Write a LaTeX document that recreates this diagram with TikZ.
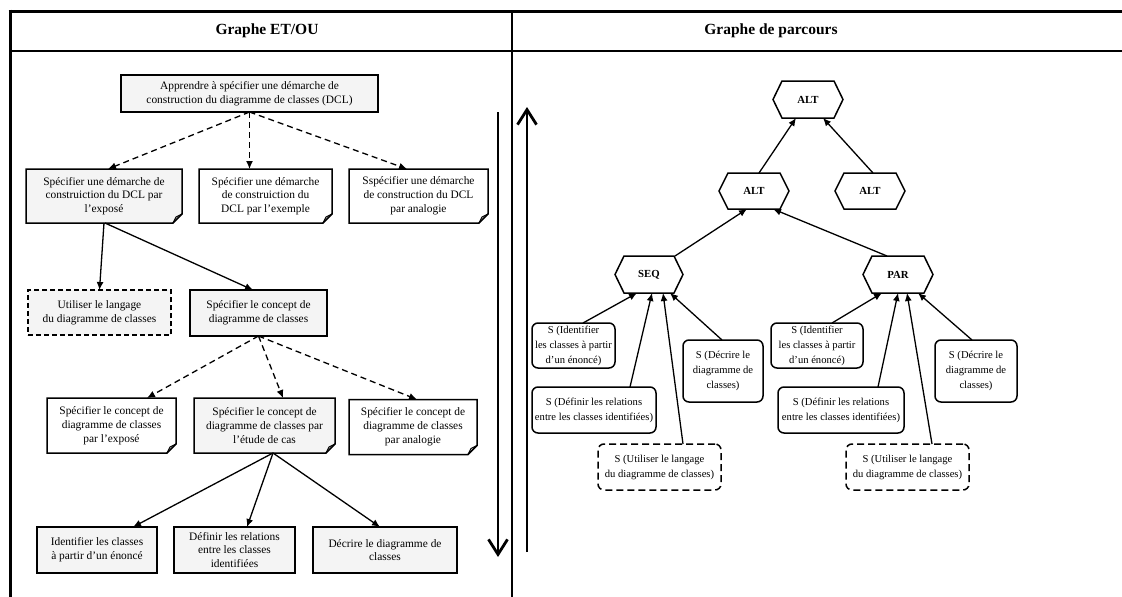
\documentclass[tikz,border=0pt]{standalone}
\usepackage{fontspec}
\setmainfont{Liberation Serif}
\usetikzlibrary{arrows.meta,backgrounds,calc}
\definecolor{boxgray}{HTML}{F4F4F4}
\newcommand\dogear[2]{%
  \draw[line width=1.5pt, fill=#2, line join=miter] (#1.north west) -- (#1.north east) -- ([yshift=9pt]#1.south east) -- ([xshift=-9pt]#1.south east) -- (#1.south west) -- cycle;
  \draw[line width=1.1pt, line join=miter] ([xshift=-9pt]#1.south east) -- ([xshift=-6pt,yshift=6pt]#1.south east) -- ([yshift=9pt]#1.south east);}
\newcommand\hexshape[1]{%
  \draw[line width=1.5pt, fill=white] (#1.west) -- ([xshift=9pt]#1.north west) -- ([xshift=-9pt]#1.north east) -- (#1.east) -- ([xshift=-9pt]#1.south east) -- ([xshift=9pt]#1.south west) -- cycle;}
\begin{document}
\begin{tikzpicture}[x=1pt,y=-1pt,
  box/.style={draw, line width=1.5pt, fill=boxgray, align=center, inner sep=0pt, outer sep=0pt, font=\fontsize{11.4}{13.8}\selectfont},
  dbox/.style={box, dash pattern=on 5pt off 3pt},
  note/.style={align=center, inner sep=0pt, outer sep=0pt, font=\fontsize{11.4}{13.8}\selectfont},
  hex/.style={inner sep=0pt, outer sep=0pt, font=\fontsize{10.8}{12}\selectfont\bfseries, minimum width=70pt, minimum height=37pt},
  sbox/.style={draw, line width=1.5pt, rounded corners=6pt, fill=white, align=center, inner sep=0pt, outer sep=0pt, font=\fontsize{10.6}{15}\selectfont},
  sdbox/.style={sbox, dash pattern=on 7pt off 4pt},
  arr/.style={line width=1.3pt, -{Latex[length=8pt,width=7pt]}},
  darr/.style={arr, dash pattern=on 6pt off 4pt},
  bigarr/.style={line width=2.8pt, -{Straight Barb[length=15pt,width=19pt]}},
  hdr/.style={font=\fontsize{15.5}{18}\selectfont\bfseries, inner sep=0pt},
  frame/.style={line width=3pt},
  rule/.style={line width=1.5pt}
]
\useasboundingbox (0,0) rectangle (1122,597);
% frame
\draw[frame] (8.5,11) -- (1122,11);
\draw[frame] (10,9.5) -- (10,597);
\draw[rule] (10,51) -- (1122,51);
\draw[line width=1.3pt] (512,11) -- (512,597);
\node[hdr] (hdrL) at (267,31) {Graphe ET/OU};
\node[hdr] (hdrR) at (771,31) {Graphe de parcours};

% ---------- left panel ----------
\node[box, minimum width=257pt, minimum height=37pt] (top) at (249.5,93.5) {Apprendre à spécifier une démarche de\\construction du diagramme de classes (DCL)};
\node[note, minimum width=156pt, minimum height=54pt] (A) at (104,196) {Spécifier une démarche de\\construiction du DCL par\\l’exposé};
\node[note, minimum width=133pt, minimum height=54pt] (B) at (265.5,196) {Spécifier une démarche\\de construiction du\\DCL par l’exemple};
\node[note, minimum width=139pt, minimum height=54pt] (C) at (418.5,196) {Sspécifier une démarche\\de construction du DCL\\par analogie};
\node[dbox, minimum width=143pt, minimum height=45pt] (U) at (99.5,312.5) {Utiliser le langage\\du diagramme de classes};
\node[box, minimum width=137pt, minimum height=46pt] (K) at (258.5,313) {Spécifier le concept de\\diagramme de classes};
\node[note, minimum width=129pt, minimum height=55pt] (D) at (111.5,425.5) {Spécifier le concept de\\diagramme de classes\\par l’exposé};
\node[note, minimum width=141pt, minimum height=55pt] (E) at (264.5,425.5) {Spécifier le concept de\\diagramme de classes par\\l’étude de cas};
\node[note, minimum width=128pt, minimum height=55pt] (F) at (413,427) {Spécifier le concept de\\diagramme de classes\\par analogie};
\node[box, minimum width=120pt, minimum height=46pt] (G) at (97,550) {Identifier les classes\\à partir d’un énoncé};
\node[box, minimum width=121pt, minimum height=46pt] (H) at (234.5,550) {Définir les relations\\entre les classes\\identifiées};
\node[box, minimum width=144pt, minimum height=46pt] (I) at (385,550) {Décrire le diagramme de\\classes};
\begin{scope}[on background layer]
  \dogear{A}{boxgray}
  \dogear{B}{white}
  \dogear{C}{white}
  \dogear{D}{white}
  \dogear{E}{boxgray}
  \dogear{F}{white}
\end{scope}
\draw[darr] (top.south) -- ([xshift=4pt]A.north);
\draw[darr] (top.south) -- (top.south |- B.north);
\draw[darr] (top.south) -- ([xshift=-11.5pt]C.north);
\draw[arr] (A.south) -- (U.north);
\draw[arr] ([xshift=1pt]A.south) -- ([xshift=-5.5pt]K.north);
\draw[darr] (K.south) -- ([xshift=35.5pt]D.north);
\draw[darr] (K.south) -- ([xshift=18.5pt]E.north);
\draw[darr] (K.south) -- ([xshift=4pt]F.north);
\draw[arr] ([xshift=8.5pt]E.south) -- ([xshift=36pt]G.north);
\draw[arr] ([xshift=8.5pt]E.south) -- ([xshift=12.5pt]H.north);
\draw[arr] ([xshift=8.5pt]E.south) -- ([xshift=-5pt]I.north);
\coordinate (dnS) at (498,112);
\coordinate (dnE) at (498,557);
\draw[bigarr] (dnS) -- (dnE);
\coordinate (upS) at (527,552);
\coordinate (upE) at (527,107);
\draw[bigarr] (upS) -- (upE);

% ---------- right panel ----------
\node[hex] (altT) at (808,99.5) {ALT};
\node[hex, minimum height=36pt] (altM) at (754,191) {ALT};
\node[hex, minimum height=36pt] (altR) at (870,191) {ALT};
\node[hex, minimum width=68pt] (seq) at (649,274.5) {SEQ};
\node[hex] (par) at (898,274.5) {PAR};
\begin{scope}[on background layer]
  \hexshape{altT}
  \hexshape{altM}
  \hexshape{altR}
  \hexshape{seq}
  \hexshape{par}
\end{scope}
\node[sbox, minimum width=83pt, minimum height=45pt] (s1) at (573.5,345.5) {S (Identifier\\les classes à partir\\d’un énoncé)};
\node[sbox, minimum width=124pt, minimum height=46pt] (s2) at (594,410) {S (Définir les relations\\entre les classes identifiées)};
\node[sdbox, minimum width=123pt, minimum height=46pt] (s3) at (659.5,467) {S (Utiliser le langage\\du diagramme de classes)};
\node[sbox, minimum width=80pt, minimum height=62pt] (s4) at (723,371) {S (Décrire le\\diagramme de\\classes)};
\node[sbox, minimum width=92pt, minimum height=45pt] (p1) at (817,345.5) {S (Identifier\\les classes à partir\\d’un énoncé)};
\node[sbox, minimum width=126pt, minimum height=46pt] (p2) at (841,410) {S (Définir les relations\\entre les classes identifiées)};
\node[sdbox, minimum width=123pt, minimum height=46pt] (p3) at (907.5,467) {S (Utiliser le langage\\du diagramme de classes)};
\node[sbox, minimum width=82pt, minimum height=62pt] (p4) at (976,371) {S (Décrire le\\diagramme de\\classes)};

\draw[arr] ([xshift=5pt]altM.north) -- ([xshift=-12pt]altT.south);
\draw[arr] ([xshift=3pt]altR.north) -- ([xshift=15pt]altT.south);
\draw[arr] ([xshift=26pt]seq.north) -- ([xshift=-7pt]altM.south);
\draw[arr] ([xshift=-11pt]par.north) -- ([xshift=19pt]altM.south);
\draw[arr] ([xshift=9.5pt]s1.north) -- ([xshift=-12pt]seq.south);
\draw[arr] ([xshift=36pt]s2.north) -- ([xshift=3pt]seq.south);
\draw[arr] ([xshift=23.5pt]s3.north) -- ([xshift=14pt]seq.south);
\draw[arr] ([xshift=-1pt]s4.north) -- ([xshift=21pt]seq.south);
\draw[arr] ([xshift=15pt]p1.north) -- ([xshift=-16pt]par.south);
\draw[arr] ([xshift=37pt]p2.north) -- (par.south);
\draw[arr] ([xshift=24.5pt]p3.north) -- ([xshift=9pt]par.south);
\draw[arr] ([xshift=-4pt]p4.north) -- ([xshift=20pt]par.south);
\end{tikzpicture}
\end{document}
